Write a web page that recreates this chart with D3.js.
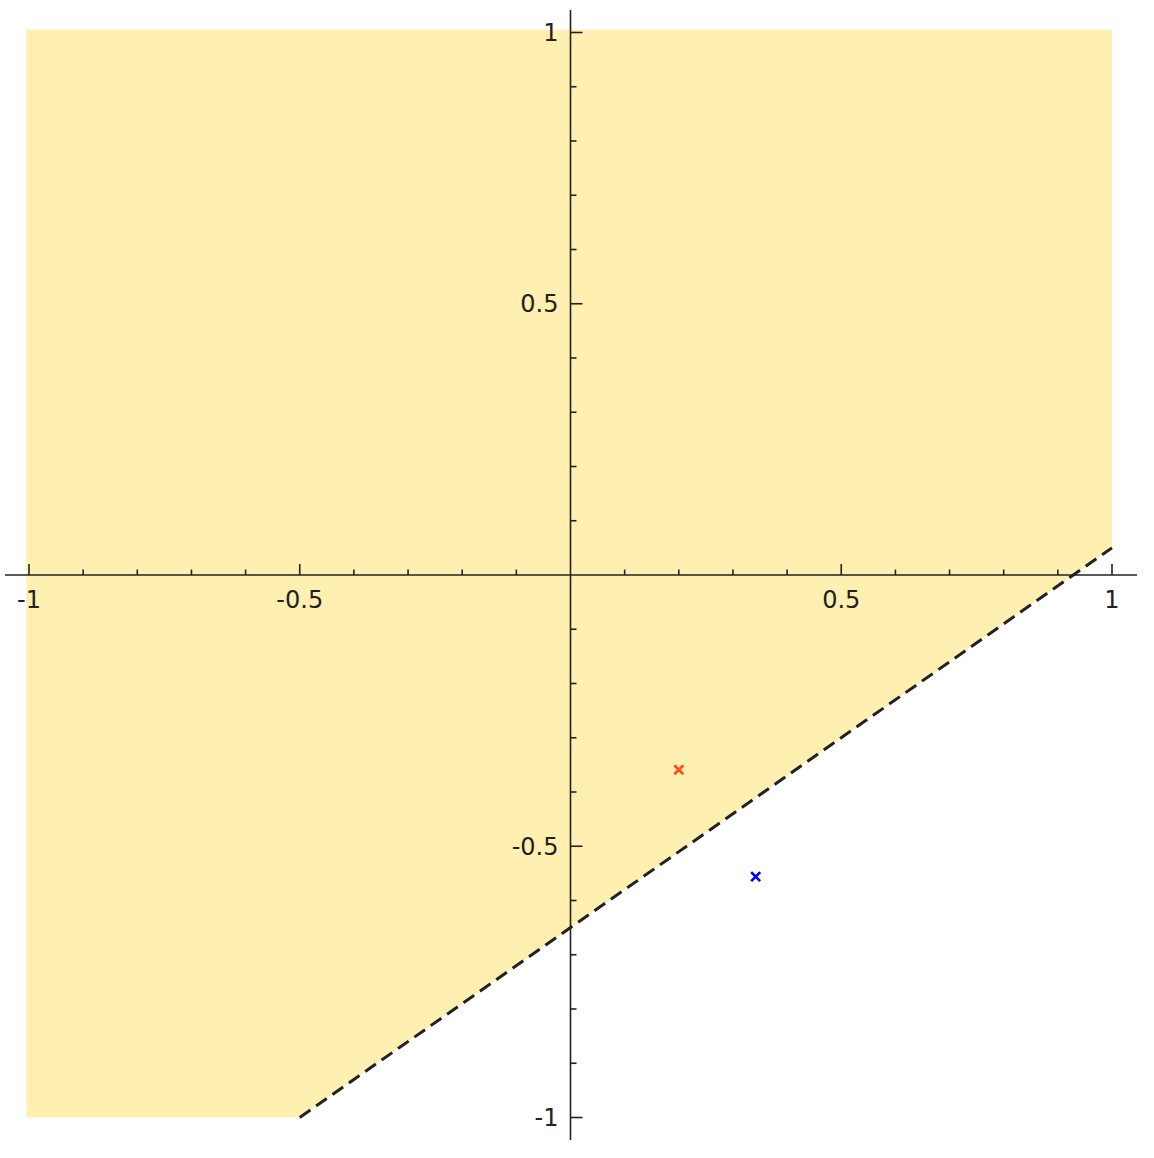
<!DOCTYPE html>
<html><head><meta charset="utf-8">
<script src="https://cdn.jsdelivr.net/npm/d3@7"></script>
<style>body{margin:0;background:#fff}svg{display:block}</style>
</head><body>
<svg id="c" width="1154" height="1158"></svg>
<script>
// Data
const majorTicks = [-1, -0.5, 0.5, 1];
const tickLabels = ["-1", "-0.5", "0.5", "1"];
const minorTicks = [-0.9,-0.8,-0.7,-0.6,-0.4,-0.3,-0.2,-0.1,0.1,0.2,0.3,0.4,0.6,0.7,0.8,0.9];
const regionX = [-1.005, 1, 1, -0.5, -1.005];
const regionY = [1.005, 1.005, 0.05, -1, -1];
const boundaryX = [-0.5, 1];
const boundaryY = [-1, 0.05];
const pointsX = [0.2, 0.342];
const pointsY = [-0.359, -0.556];
const pointColors = ["#ff4a1c", "#0000ff"];

const svg = d3.select("#c");
const x = d3.scaleLinear().domain([-1, 1]).range([29, 1112]);
const y = d3.scaleLinear().domain([-1, 1]).range([1117.5, 32.5]);

// Fill region
svg.append("path")
  .attr("d", d3.line().x(d => x(d[0])).y(d => y(d[1]))(regionX.map((v, i) => [v, regionY[i]])) + "Z")
  .attr("fill", "#fff0b2");

// Boundary dashed line
svg.append("path")
  .attr("d", d3.line().x(d => x(d[0])).y(d => y(d[1]))(boundaryX.map((v, i) => [v, boundaryY[i]])))
  .attr("stroke", "#222").attr("stroke-width", 3).attr("fill", "none")
  .attr("stroke-dasharray", "13,7");

// Axes
const ax = svg.append("g").attr("stroke", "#222").attr("stroke-width", 1.6);
ax.append("line").attr("x1", 5).attr("x2", 1137).attr("y1", y(0)).attr("y2", y(0));
ax.append("line").attr("y1", 10).attr("y2", 1140).attr("x1", x(0)).attr("x2", x(0));
// x ticks (upward)
ax.selectAll(".xM").data(majorTicks).join("line")
  .attr("x1", d => x(d)).attr("x2", d => x(d)).attr("y1", y(0)).attr("y2", y(0) - 11);
ax.selectAll(".xm").data(minorTicks).join("line")
  .attr("x1", d => x(d)).attr("x2", d => x(d)).attr("y1", y(0)).attr("y2", y(0) - 5.5);
// y ticks (rightward)
ax.selectAll(".yM").data(majorTicks).join("line")
  .attr("y1", d => y(d)).attr("y2", d => y(d)).attr("x1", x(0)).attr("x2", x(0) + 12);
ax.selectAll(".ym").data(minorTicks).join("line")
  .attr("y1", d => y(d)).attr("y2", d => y(d)).attr("x1", x(0)).attr("x2", x(0) + 6);

// Labels
const font = "DejaVu Sans";
svg.selectAll(".xl").data(majorTicks).join("text")
  .attr("x", d => x(d)).attr("y", y(0) + 33)
  .attr("text-anchor", "middle").attr("font-family", font).attr("font-size", 24).attr("fill", "#222")
  .text((d, i) => tickLabels[i]);
svg.selectAll(".yl").data(majorTicks).join("text")
  .attr("x", x(0) - 12).attr("y", d => y(d)).attr("dy", "0.36em")
  .attr("text-anchor", "end").attr("font-family", font).attr("font-size", 24).attr("fill", "#222")
  .text((d, i) => tickLabels[i]);

// Markers
const s = 4.5;
pointsX.forEach((px, i) => {
  const cx = x(px), cy = y(pointsY[i]);
  const g = svg.append("g").attr("stroke", pointColors[i]).attr("stroke-width", 2.6);
  g.append("line").attr("x1", cx - s).attr("y1", cy - s).attr("x2", cx + s).attr("y2", cy + s);
  g.append("line").attr("x1", cx - s).attr("y1", cy + s).attr("x2", cx + s).attr("y2", cy - s);
});
</script>
</body></html>
